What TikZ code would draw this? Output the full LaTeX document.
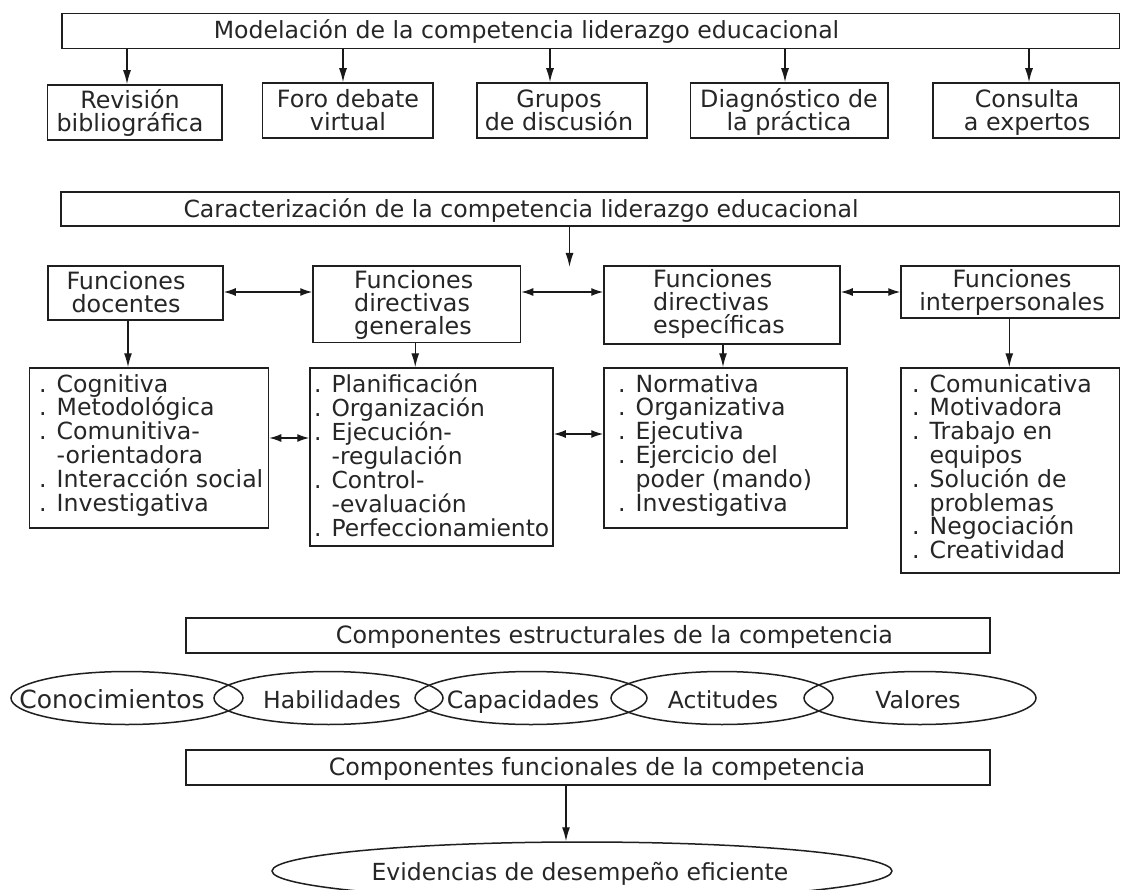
\documentclass[tikz,border=0pt]{standalone}
\usepackage{fontspec}
\setmainfont{DejaVu Sans}
\usetikzlibrary{arrows.meta,shapes.geometric}
\newcommand{\Lft}[3]{\vtop{\fontsize{#1}{#2}\selectfont\baselineskip=#2pt\relax\lineskiplimit=-100pt\halign{##\hfil\cr#3\crcr}}}
\newcommand{\Ctr}[3]{\vtop{\fontsize{#1}{#2}\selectfont\baselineskip=#2pt\relax\lineskiplimit=-100pt\halign{\hfil##\hfil\cr#3\crcr}}}
\begin{document}
\begin{tikzpicture}[x=1pt,y=-1pt,
  bx/.style={draw=black!88, line width=1.5pt, inner sep=0pt, rectangle},
  ell/.style={draw=black!88, line width=1.5pt, inner sep=0pt, ellipse},
  arr/.style={draw=black!90, line width=1.4pt, -{Latex[length=14pt,width=8pt]}},
  dbl/.style={draw=black!90, line width=1.4pt, {Latex[length=12pt,width=8pt]}-{Latex[length=12pt,width=8pt]}},
  txt/.style={inner sep=0pt, anchor=base, text=black!85},
  ]
\fill[white] (0,0) rectangle (1121,890);
\useasboundingbox (0,0) rectangle (1121,890);

% ---- top row
\node[bx, minimum width=1057.5pt, minimum height=35pt] (mod) at (590.75,31) {};
\node[txt, font=\fontsize{23.6}{24}\selectfont] (modt) at (526.5,39) {Modelación de la competencia liderazgo educacional};

\node[bx, minimum width=174.5pt, minimum height=55pt] (rev) at (134.75,112.5) {};
\node[bx, minimum width=170.5pt, minimum height=55pt] (foro) at (347.75,110.5) {};
\node[bx, minimum width=170pt, minimum height=55pt] (grup) at (562,110.5) {};
\node[bx, minimum width=197.5pt, minimum height=55pt] (diag) at (789.25,110.5) {};
\node[bx, minimum width=186.5pt, minimum height=55pt] (cons) at (1026.25,110.5) {};

\node[txt] (revt) at (130,109) {\Ctr{23.8}{23}{Revisión\cr bibliográfica}};
\node[txt] (forot) at (348,107.5) {\Ctr{23.8}{23}{Foro debate\cr virtual}};
\node[txt] (grupt) at (559,107.5) {\Ctr{23.8}{23}{Grupos\cr de discusión}};
\node[txt] (diagt) at (789,107.5) {\Ctr{23.8}{23}{Diagnóstico de\cr la práctica}};
\node[txt] (const) at (1027,107.5) {\Ctr{23.8}{23}{Consulta\cr a expertos}};

\draw[arr] ([xshift=-7.75pt]rev.north |- mod.south) -- ([xshift=-7.75pt]rev.north);
\draw[arr] ([xshift=-4.75pt]foro.north |- mod.south) -- ([xshift=-4.75pt]foro.north);
\draw[arr] ([xshift=-12pt]grup.north |- mod.south) -- ([xshift=-12pt]grup.north);
\draw[arr] ([xshift=-4.25pt]diag.north |- mod.south) -- ([xshift=-4.25pt]diag.north);
\draw[arr] ([xshift=2.75pt]cons.north |- mod.south) -- ([xshift=2.75pt]cons.north);

% ---- characterisation
\node[bx, minimum width=1058.5pt, minimum height=34pt] (car) at (590.25,209) {};
\node[txt, font=\fontsize{23.6}{24}\selectfont] (cart) at (521,218) {Caracterización de la competencia liderazgo educacional};
\coordinate (carend) at (569.5,267);
\draw[arr] (car.south -| carend) -- (carend);

\node[bx, minimum width=175pt, minimum height=54pt] (doc) at (135.5,293) {};
\node[bx, minimum width=207.5pt, minimum height=76.5pt] (gen) at (416.75,304.25) {};
\node[bx, minimum width=236pt, minimum height=78pt] (esp) at (722,305) {};
\node[bx, minimum width=218.5pt, minimum height=52pt] (inter) at (1010.25,292) {};

\node[txt] (doct) at (126,289.5) {\Ctr{23.8}{23.3}{Funciones\cr docentes}};
\node[txt, anchor=base west] (gent) at (354,288.5) {\Lft{23.8}{22.8}{Funciones\cr directivas\cr generales}};
\node[txt, anchor=base west] (espt) at (653,288) {\Lft{23.8}{23}{Funciones\cr directivas\cr específicas}};
\node[txt] (intert) at (1012,288) {\Ctr{23.8}{23}{Funciones\cr interpersonales}};

\coordinate (ya) at (0,292);
\draw[dbl] (doc.east |- ya) -- (gen.west |- ya);
\draw[dbl] (gen.east |- ya) -- (esp.west |- ya);
\draw[dbl] (esp.east |- ya) -- (inter.west |- ya);

% ---- lists
\node[bx, minimum width=239pt, minimum height=160pt] (l1) at (149,448) {};
\node[bx, minimum width=243pt, minimum height=178pt] (l2) at (431.5,457) {};
\node[bx, minimum width=243pt, minimum height=160pt] (l3) at (725.5,448) {};
\node[bx, minimum width=218.5pt, minimum height=205pt] (l4) at (1010.25,470.5) {};

\draw[arr] ([xshift=-7.5pt]doc.south) -- ([xshift=-7.5pt]doc.south |- l1.north);
\draw[arr] ([xshift=-1.5pt]gen.south) -- ([xshift=-1.5pt]gen.south |- l2.north);
\draw[arr] ([xshift=1pt]esp.south) -- ([xshift=1pt]esp.south |- l3.north);
\draw[arr] ([xshift=-1pt]inter.south) -- ([xshift=-1pt]inter.south |- l4.north);

\node[txt, anchor=base west] (l1t) at (39,392) {\Lft{23.6}{23.8}{. Cognitiva\cr . Metodológica\cr . Comunitiva-\cr \phantom{. }-orientadora\cr . Interacción social\cr . Investigativa}};
\node[txt, anchor=base west] (l2t) at (314,392) {\Lft{23.4}{24.1}{. Planificación\cr . Organización\cr . Ejecución-\cr \phantom{. }-regulación\cr . Control-\cr \phantom{. }-evaluación\cr . Perfeccionamiento}};
\node[txt, anchor=base west] (l3t) at (618,392) {\Lft{23.6}{23.9}{. Normativa\cr . Organizativa\cr . Ejecutiva\cr . Ejercicio del\cr \phantom{. }poder (mando)\cr . Investigativa}};
\node[txt, anchor=base west] (l4t) at (912,392) {\Lft{23.6}{23.8}{. Comunicativa\cr . Motivadora\cr . Trabajo en\cr \phantom{. }equipos\cr . Solución de\cr \phantom{. }problemas\cr . Negociación\cr . Creatividad}};

\coordinate (yb) at (0,438);
\coordinate (yc) at (0,434);
\draw[dbl] (l1.east |- yb) -- (l2.west |- yb);
\draw[dbl] (l2.east |- yc) -- (l3.west |- yc);

% ---- components
\node[bx, minimum width=804pt, minimum height=35pt] (ce) at (588,635.5) {};
\node[txt, font=\fontsize{23.8}{24}\selectfont] (cet) at (614.5,643) {Componentes estructurales de la competencia};

\node[ell, minimum width=232pt, minimum height=53pt] (e1) at (127,698) {};
\node[ell, minimum width=229pt, minimum height=53pt] (e2) at (328.5,698) {};
\node[ell, minimum width=232pt, minimum height=53pt] (e3) at (531,698) {};
\node[ell, minimum width=222pt, minimum height=53pt] (e4) at (722,698) {};
\node[ell, minimum width=232pt, minimum height=53pt] (e5) at (920,698) {};
\node[txt, font=\fontsize{25}{24}\selectfont] (e1t) at (112,708) {Conocimientos};
\node[txt, font=\fontsize{23.5}{24}\selectfont] (e2t) at (332,708) {Habilidades};
\node[txt, font=\fontsize{23.8}{24}\selectfont] (e3t) at (523,708) {Capacidades};
\node[txt, font=\fontsize{23.5}{24}\selectfont] (e4t) at (723,708) {Actitudes};
\node[txt, font=\fontsize{23.5}{24}\selectfont] (e5t) at (918,708) {Valores};

\node[bx, minimum width=804pt, minimum height=35pt] (cf) at (588,767.5) {};
\node[txt, font=\fontsize{23.8}{24}\selectfont] (cft) at (597,775) {Componentes funcionales de la competencia};

\node[ell, minimum width=620pt, minimum height=58pt] (ev) at (582,871) {};
\node[txt, font=\fontsize{23.5}{24}\selectfont] (evt) at (580,880) {Evidencias de desempeño eficiente};
\draw[arr] (cf.south -| ev.north) ++(-16,0) coordinate (cfa) (cfa) -- (cfa |- ev.north);
\end{tikzpicture}
\end{document}
